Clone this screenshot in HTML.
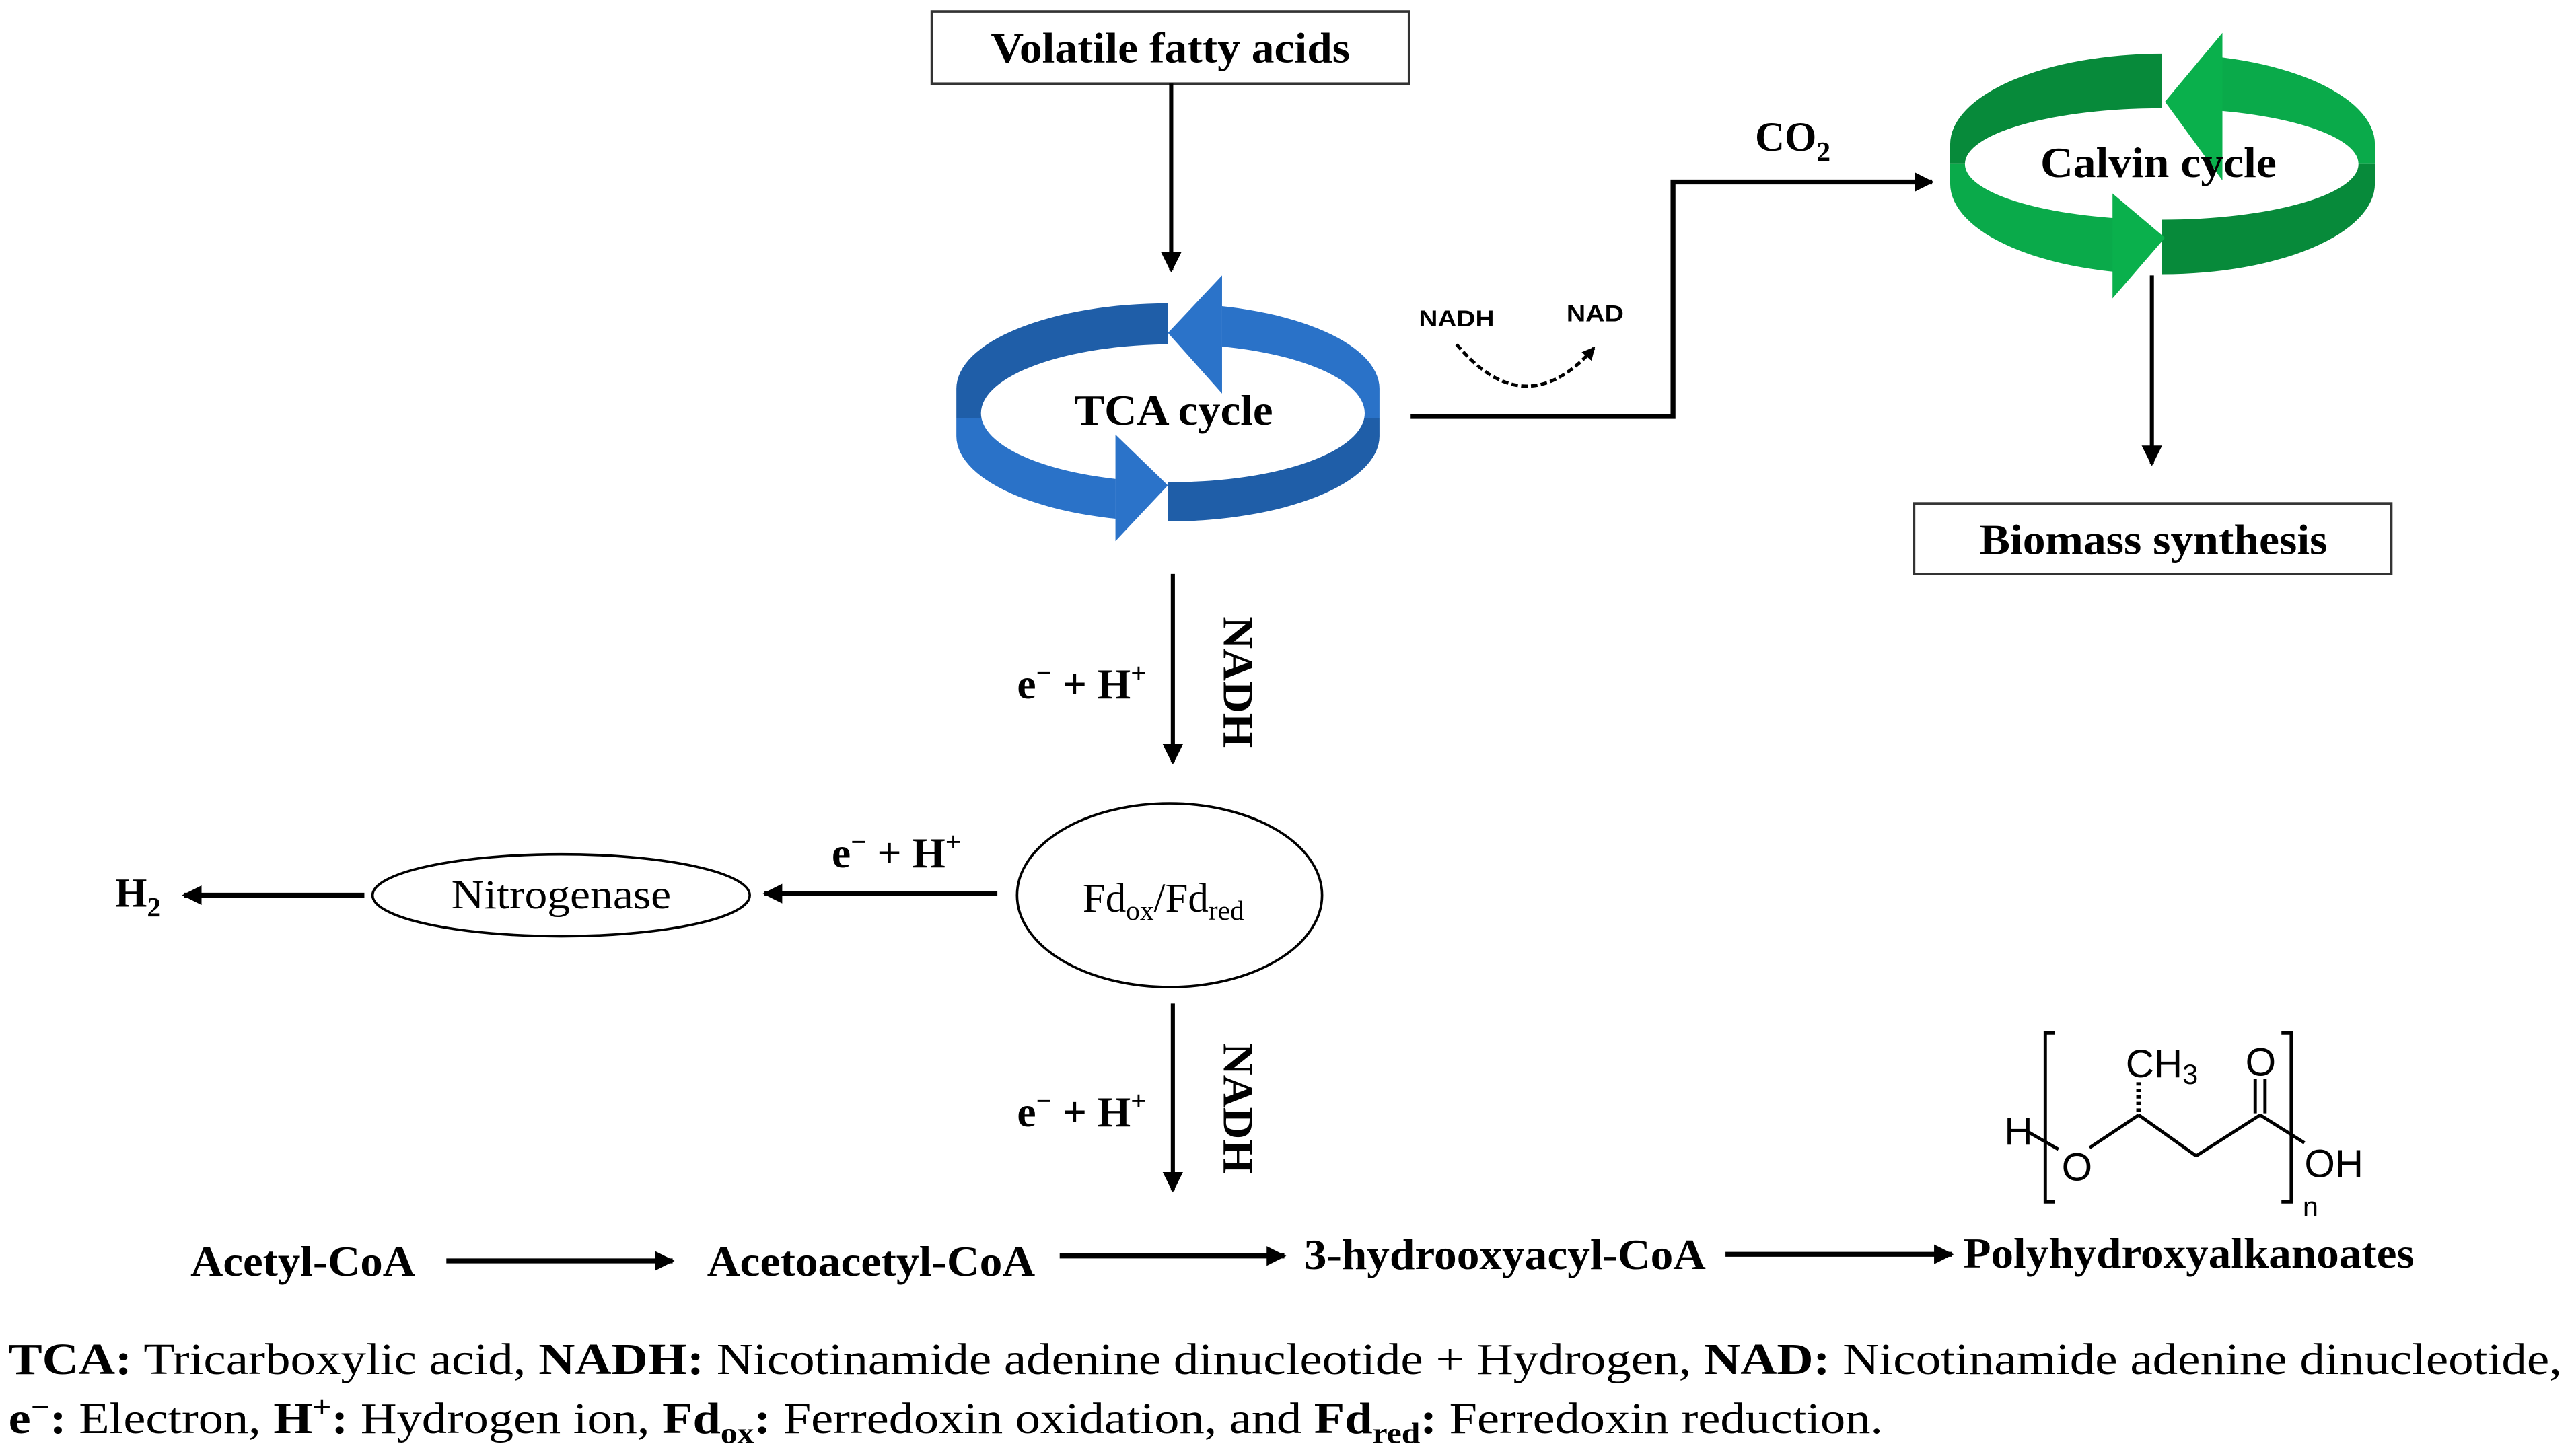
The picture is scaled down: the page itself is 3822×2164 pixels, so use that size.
<!DOCTYPE html>
<html><head><meta charset="utf-8"><style>
html,body{margin:0;padding:0;background:#fff;}
svg{display:block;}
text{font-family:"Liberation Serif",serif;}
.b{font-weight:bold;}
</style></head><body>
<svg width="3822" height="2164" viewBox="0 0 1568 888" xmlns="http://www.w3.org/2000/svg">
<defs>
<marker id="ah" viewBox="0 0 10 10" refX="9" refY="5" markerWidth="5" markerHeight="5" orient="auto" markerUnits="strokeWidth"><path d="M0,0 L10,5 L0,10 z" fill="#000"/></marker>
<marker id="ah2" viewBox="0 0 10 10" refX="9" refY="5" markerWidth="4" markerHeight="4" orient="auto" markerUnits="strokeWidth"><path d="M0,0 L10,5 L0,10 z" fill="#000"/></marker>
<clipPath id="t1"><rect x="0" y="0" width="712" height="255"/></clipPath>
<clipPath id="t2"><rect x="745" y="0" width="200" height="255"/></clipPath>
<clipPath id="t3"><rect x="0" y="255" width="680" height="200"/></clipPath>
<clipPath id="t4"><rect x="712" y="255" width="200" height="200"/></clipPath>
<clipPath id="c1"><rect x="1100" y="0" width="218" height="100"/></clipPath>
<clipPath id="c2"><rect x="1355" y="0" width="200" height="100"/></clipPath>
<clipPath id="c3"><rect x="1100" y="100" width="190" height="100"/></clipPath>
<clipPath id="c4"><rect x="1318" y="100" width="200" height="100"/></clipPath>
</defs>
<rect width="1568" height="888" fill="#fff"/>

<!-- Volatile fatty acids -->
<rect x="568" y="7" width="291" height="44" fill="#fff" stroke="#333" stroke-width="1.5"/>
<text x="604" y="38" class="b" font-size="26" textLength="219" lengthAdjust="spacingAndGlyphs">Volatile fatty acids</text>
<line x1="714" y1="51" x2="714" y2="165" stroke="#000" stroke-width="2.5" marker-end="url(#ah)"/>

<!-- TCA cycle -->
<g fill-rule="evenodd">
<path id="tr" d="M583,237 A129,52 0 0 1 841,237 L841,266 A129,52 0 0 1 583,266 Z M598,252 A117,42 0 0 0 832,252 A117,42 0 0 0 598,252 Z" fill="#1f5ea8" clip-path="url(#t1)"/>
<use href="#tr" fill="#2a72c8" clip-path="url(#t2)"/>
<path d="M583,237 A129,52 0 0 1 841,237 L841,266 A129,52 0 0 1 583,266 Z M598,252 A117,42 0 0 0 832,252 A117,42 0 0 0 598,252 Z" fill="#2a72c8" clip-path="url(#t2)"/>
<path d="M583,237 A129,52 0 0 1 841,237 L841,266 A129,52 0 0 1 583,266 Z M598,252 A117,42 0 0 0 832,252 A117,42 0 0 0 598,252 Z" fill="#2a72c8" clip-path="url(#t3)"/>
<path d="M583,237 A129,52 0 0 1 841,237 L841,266 A129,52 0 0 1 583,266 Z M598,252 A117,42 0 0 0 832,252 A117,42 0 0 0 598,252 Z" fill="#1f5ea8" clip-path="url(#t4)"/>
</g>
<polygon points="745,168 712,203 745,240" fill="#2b73c9"/>
<polygon points="680,265 712,296 680,330" fill="#2b73c9"/>
<text x="655" y="259" class="b" font-size="26" textLength="121" lengthAdjust="spacingAndGlyphs">TCA cycle</text>

<!-- to Calvin -->
<polyline points="860,254 1020,254 1020,111 1178,111" fill="none" stroke="#000" stroke-width="3" marker-end="url(#ah2)"/>
<text x="1070" y="92" class="b" font-size="25">CO<tspan font-size="17" dy="6">2</tspan></text>
<text x="865" y="199" class="b" font-size="14" style="font-family:'Liberation Sans',sans-serif" textLength="46" lengthAdjust="spacingAndGlyphs">NADH</text>
<text x="955" y="196" class="b" font-size="14" style="font-family:'Liberation Sans',sans-serif" textLength="35" lengthAdjust="spacingAndGlyphs">NAD</text>
<path d="M888,210 Q930,260 972,212" fill="none" stroke="#000" stroke-width="2" stroke-dasharray="4,2" marker-end="url(#ah2)"/>

<!-- Calvin cycle -->
<g fill-rule="evenodd">
<path d="M1189,88 A129,55 0 0 1 1448,88 L1448,112 A129,55 0 0 1 1189,112 Z M1198,100 A120,34 0 0 0 1438,100 A120,34 0 0 0 1198,100 Z" fill="#078a3a" clip-path="url(#c1)"/>
<path d="M1189,88 A129,55 0 0 1 1448,88 L1448,112 A129,55 0 0 1 1189,112 Z M1198,100 A120,34 0 0 0 1438,100 A120,34 0 0 0 1198,100 Z" fill="#0aaa4a" clip-path="url(#c2)"/>
<path d="M1189,88 A129,55 0 0 1 1448,88 L1448,112 A129,55 0 0 1 1189,112 Z M1198,100 A120,34 0 0 0 1438,100 A120,34 0 0 0 1198,100 Z" fill="#0aaa4a" clip-path="url(#c3)"/>
<path d="M1189,88 A129,55 0 0 1 1448,88 L1448,112 A129,55 0 0 1 1189,112 Z M1198,100 A120,34 0 0 0 1438,100 A120,34 0 0 0 1198,100 Z" fill="#078a3a" clip-path="url(#c4)"/>
</g>
<polygon points="1355,20 1320,62 1355,110" fill="#0ab04c"/>
<polygon points="1288,118 1320,145 1288,182" fill="#0ab04c"/>
<text x="1244" y="108" class="b" font-size="26" textLength="144" lengthAdjust="spacingAndGlyphs">Calvin cycle</text>
<line x1="1312" y1="168" x2="1312" y2="283" stroke="#000" stroke-width="2.5" marker-end="url(#ah)"/>
<rect x="1167" y="307" width="291" height="43" fill="#fff" stroke="#333" stroke-width="1.5"/>
<text x="1207" y="338" class="b" font-size="26" textLength="212" lengthAdjust="spacingAndGlyphs">Biomass synthesis</text>

<!-- TCA -> Fd -->
<line x1="715" y1="350" x2="715" y2="465" stroke="#000" stroke-width="2.5" marker-end="url(#ah)"/>
<text x="620" y="426" class="b" font-size="26">e<tspan font-size="17" dy="-10">−</tspan><tspan dy="10"> + H</tspan><tspan font-size="17" dy="-10">+</tspan></text>
<text transform="translate(746,376) rotate(90)" class="b" font-size="26" textLength="80" lengthAdjust="spacingAndGlyphs">NADH</text>

<ellipse cx="713" cy="546" rx="93" ry="56" fill="#fff" stroke="#000" stroke-width="1.5"/>
<text x="660" y="556" font-size="25">Fd<tspan font-size="17" dy="5">ox</tspan><tspan dy="-5">/Fd</tspan><tspan font-size="17" dy="5">red</tspan></text>

<line x1="608" y1="545" x2="466" y2="545" stroke="#000" stroke-width="3" marker-end="url(#ah2)"/>
<text x="507" y="529" class="b" font-size="26">e<tspan font-size="17" dy="-10">−</tspan><tspan dy="10"> + H</tspan><tspan font-size="17" dy="-10">+</tspan></text>
<ellipse cx="342" cy="546" rx="115" ry="25" fill="#fff" stroke="#000" stroke-width="1.5"/>
<text x="275" y="554" font-size="25" textLength="134" lengthAdjust="spacingAndGlyphs">Nitrogenase</text>
<line x1="222" y1="546" x2="112" y2="546" stroke="#000" stroke-width="3" marker-end="url(#ah2)"/>
<text x="70" y="553" class="b" font-size="25">H<tspan font-size="17" dy="6">2</tspan></text>

<line x1="715" y1="612" x2="715" y2="726" stroke="#000" stroke-width="2.5" marker-end="url(#ah)"/>
<text x="620" y="687" class="b" font-size="26">e<tspan font-size="17" dy="-10">−</tspan><tspan dy="10"> + H</tspan><tspan font-size="17" dy="-10">+</tspan></text>
<text transform="translate(746,636) rotate(90)" class="b" font-size="26" textLength="80" lengthAdjust="spacingAndGlyphs">NADH</text>

<!-- bottom row -->
<text x="116" y="778" class="b" font-size="26" textLength="137" lengthAdjust="spacingAndGlyphs">Acetyl-CoA</text>
<line x1="272" y1="769" x2="410" y2="769" stroke="#000" stroke-width="3" marker-end="url(#ah2)"/>
<text x="431" y="778" class="b" font-size="26" textLength="200" lengthAdjust="spacingAndGlyphs">Acetoacetyl-CoA</text>
<line x1="646" y1="766" x2="783" y2="766" stroke="#000" stroke-width="3" marker-end="url(#ah2)"/>
<text x="795" y="774" class="b" font-size="26" textLength="245" lengthAdjust="spacingAndGlyphs">3-hydrooxyacyl-CoA</text>
<line x1="1052" y1="765" x2="1190" y2="765" stroke="#000" stroke-width="3" marker-end="url(#ah2)"/>
<text x="1197" y="773" class="b" font-size="26" textLength="275" lengthAdjust="spacingAndGlyphs">Polyhydroxyalkanoates</text>

<!-- PHA structure -->
<g stroke="#000" stroke-width="2" fill="none">
<polyline points="1253,630 1247,630 1247,733 1253,733"/>
<polyline points="1391,630 1397,630 1397,733 1391,733"/>
<line x1="1274" y1="700" x2="1304" y2="680"/>
<line x1="1304" y1="680" x2="1339" y2="705"/>
<line x1="1339" y1="705" x2="1378" y2="680"/>
<line x1="1378" y1="680" x2="1405" y2="697"/>
<line x1="1375" y1="679" x2="1375" y2="658"/>
<line x1="1381" y1="679" x2="1381" y2="658"/>
<line x1="1236" y1="690" x2="1255" y2="701"/>
<path d="M1304,678 L1304,660" stroke-dasharray="2,2" stroke-width="3"/>
</g>
<text x="1222" y="698" font-size="24" style="font-family:'Liberation Sans',sans-serif">H</text>
<text x="1257" y="720" font-size="24" style="font-family:'Liberation Sans',sans-serif">O</text>
<text x="1296" y="657" font-size="24" style="font-family:'Liberation Sans',sans-serif">CH<tspan font-size="17" dy="4">3</tspan></text>
<text x="1369" y="656" font-size="24" style="font-family:'Liberation Sans',sans-serif">O</text>
<text x="1405" y="718" font-size="24" style="font-family:'Liberation Sans',sans-serif">OH</text>
<text x="1404" y="742" font-size="17" style="font-family:'Liberation Sans',sans-serif">n</text>

<!-- caption -->
<text x="5" y="838" font-size="27" textLength="1557" lengthAdjust="spacingAndGlyphs"><tspan class="b">TCA:</tspan> Tricarboxylic acid, <tspan class="b">NADH:</tspan> Nicotinamide adenine dinucleotide + Hydrogen, <tspan class="b">NAD:</tspan>  Nicotinamide adenine dinucleotide,</text>
<text x="5" y="874" font-size="27" textLength="1143" lengthAdjust="spacingAndGlyphs"><tspan class="b">e</tspan><tspan class="b" font-size="18" dy="-10">−</tspan><tspan class="b" dy="10">:</tspan> Electron, <tspan class="b">H</tspan><tspan class="b" font-size="18" dy="-10">+</tspan><tspan class="b" dy="10">:</tspan> Hydrogen ion, <tspan class="b">Fd</tspan><tspan class="b" font-size="18" dy="6">ox</tspan><tspan class="b" dy="-6">:</tspan> Ferredoxin oxidation, and <tspan class="b">Fd</tspan><tspan class="b" font-size="18" dy="6">red</tspan><tspan class="b" dy="-6">:</tspan> Ferredoxin reduction.</text>
</svg>
</body></html>
